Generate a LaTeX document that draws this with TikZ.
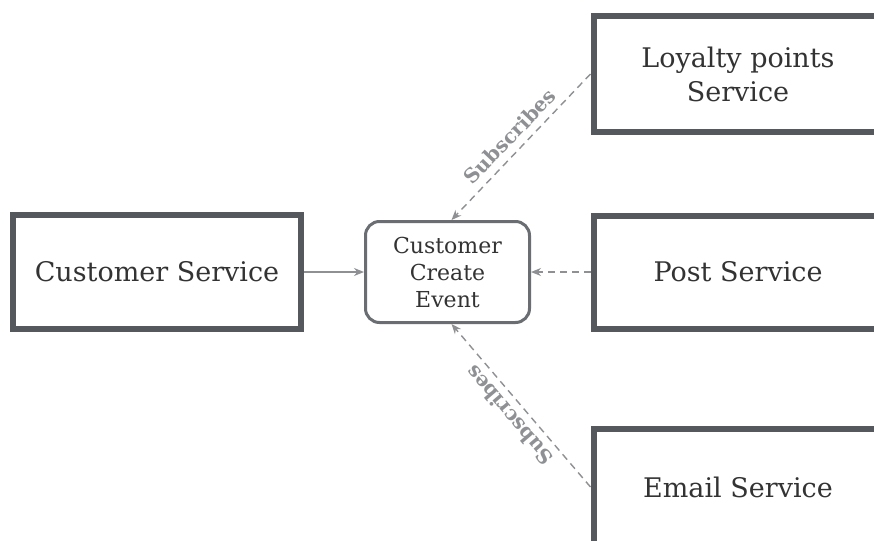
\documentclass[tikz,border=0pt]{standalone}
\usepackage{fontspec}
\setmainfont{DejaVu Serif}
\usetikzlibrary{arrows.meta}

\definecolor{boxline}{HTML}{55595D}
\definecolor{evline}{HTML}{6A6E72}
\definecolor{wire}{HTML}{8E9093}
\definecolor{ink}{HTML}{333333}

\tikzset{
  service/.style={draw=boxline,line width=3pt,fill=white,text=ink,
    font=\fontsize{13.5}{17}\selectfont,align=center,inner sep=0pt},
  eventbox/.style={draw=evline,line width=1.5pt,rounded corners=7pt,fill=white,
    text=ink,font=\fontsize{11}{13.5}\selectfont,align=center,inner sep=0pt,
    minimum width=82pt,minimum height=50.5pt},
  feed/.style={draw=wire,line width=0.7pt,-{Stealth[length=5pt,width=4pt]}},
  subs/.style={feed,dash pattern=on 3.5pt off 2.5pt},
  sublabel/.style={text=wire,font=\bfseries\fontsize{10}{12}\selectfont,inner sep=3.5pt}
}

\begin{document}
\begin{tikzpicture}[x=0.5pt,y=-0.5pt]
\clip (0,0) rectangle (874,541);
\fill[white] (0,0) rectangle (874,541);

\node[service,minimum width=143.75pt,minimum height=57pt] (cust) at (157,272) {Customer Service};
\node[eventbox] (event) at (447.5,272) {Customer\\Create\\Event};

% right column runs off the page edge
\node[service,minimum width=144.5pt,minimum height=58pt] (loyalty) at (738,74) {Loyalty points\\Service};
\node[service,minimum width=144.5pt,minimum height=56.5pt] (post) at (738,272) {Post Service};
\node[service,minimum width=144.5pt,minimum height=58pt] (email) at (738,487) {Email Service};

\draw[feed] (cust) -- (event);
\draw[subs] (post) -- (event);
\draw[subs] (loyalty.west) -- ([xshift=2pt]event.north)
  node[midway,sloped,above,sublabel] {Subscribes};
\draw[subs] (email.west) -- ([xshift=2pt]event.south)
  node[midway,sloped,allow upside down,above,sublabel] {Subscribes};
\end{tikzpicture}
\end{document}
